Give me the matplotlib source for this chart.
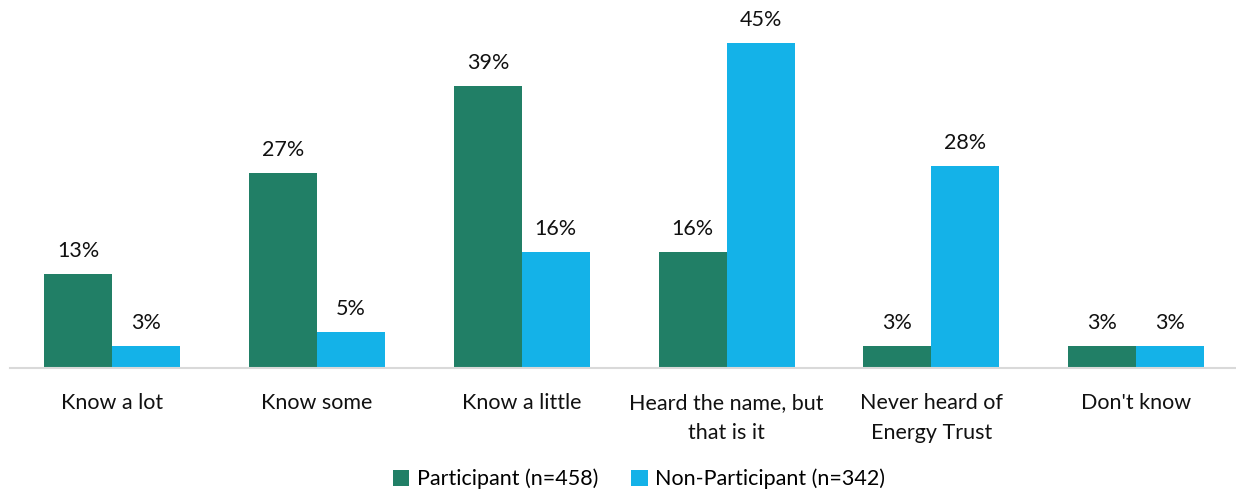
import matplotlib
matplotlib.use("Agg")
import matplotlib.pyplot as plt
import numpy as np

categories = ["Know a lot", "Know some", "Know a little", "Heard the name, but\nthat is it",
              "Never heard of\nEnergy Trust", "Don't know"]
participant = [13, 27, 39, 16, 3, 3]
non_participant = [3, 5, 16, 45, 28, 3]
series_names = ["Participant (n=458)", "Non-Participant (n=342)"]
colors = ["#217F66", "#14B2E8"]

plt.rcParams['font.family'] = ['Lato', 'DejaVu Sans']

W, H = 1236, 493
fig = plt.figure(figsize=(W/100, H/100), dpi=100)
left = 10/W
right = 1238.5/W
ax = fig.add_axes([left, 1-368/H, right-left, 361/H])

x = np.arange(len(categories))
bw = 68/205
b1 = ax.bar(x - bw/2, participant, bw, color=colors[0], label=series_names[0])
b2 = ax.bar(x + bw/2, non_participant, bw, color=colors[1], label=series_names[1])

fs = 15.5
for bars, vals in ((b1, participant), (b2, non_participant)):
    for r, v in zip(bars, vals):
        ax.annotate(f"{v}%", (r.get_x() + r.get_width()/2, r.get_height()),
                    xytext=(0, 13), textcoords="offset pixels",
                    ha="center", va="bottom", fontsize=fs, color="#111111")

ax.set_xlim(-0.5, len(categories) - 0.5)
ax.set_ylim(0, 50)
ax.set_yticks([])
ax.set_xticks(x)
ax.set_xticklabels(categories, fontsize=fs, color="#111111", linespacing=1.6, va="top")
ax.tick_params(axis="x", length=0, pad=18)
for s in ("top", "right", "left"):
    ax.spines[s].set_visible(False)
ax.spines["bottom"].set_color("#D9D9D9")
ax.spines["bottom"].set_linewidth(1.5)

fig.legend(handles=[b1, b2], labels=series_names, loc="center", ncol=2,
           bbox_to_anchor=(0.517, 1-479/H), frameon=False, fontsize=fs,
           handlelength=0.75, handleheight=0.75, handletextpad=0.35, columnspacing=1.55)

fig.savefig("out.png", dpi=100)
